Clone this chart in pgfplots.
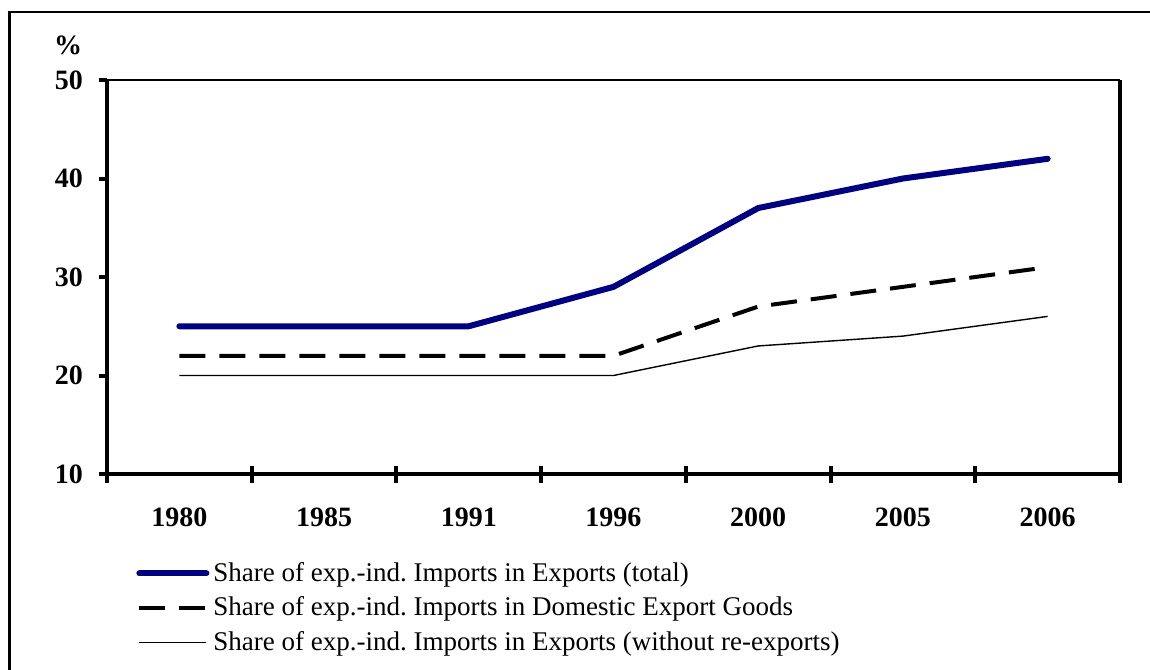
\documentclass[border=0pt]{standalone}
\usepackage{pgfplots}
\pgfplotsset{compat=1.18}
\usepackage{fontspec}
\setmainfont{Liberation Serif}
\frenchspacing
\definecolor{navy}{RGB}{0,0,128}
\begin{document}
\begin{tikzpicture}
\useasboundingbox (0,0) rectangle (575pt,334.5pt);
\draw[line width=1.5pt] (4.5pt,-1pt) -- (4.5pt,328.5pt);
\draw[line width=1pt] (3.75pt,328.5pt) -- (576pt,328.5pt);
\begin{axis}[
  at={(53.5pt,97.5pt)}, anchor=south west,
  scale only axis, width=506.5pt, height=197pt,
  xmin=-0.5, xmax=6.5, ymin=10, ymax=50,
  clip=false,
  axis x line*=bottom, axis y line*=left,
  axis line style={line width=2pt, black, -},
  tick style={black, line width=2pt},
  tick align=outside, major tick length=4pt, minor tick length=8.5pt,
  ytick={10,20,30,40,50},
  xtick={0,...,6},
  xticklabels={1980,1985,1991,1996,2000,2005,2006},
  major x tick style={draw=none},
  minor xtick={-0.5,0.5,...,6.5},
  minor x tick style={yshift=4.25pt},
  /pgf/number format/assume math mode=true,
  tick label style={font=\fontsize{14}{16}\selectfont\bfseries},
  xticklabel style={yshift=-9.5pt},
  yticklabel style={xshift=-4.5pt},
  legend style={draw=none, fill=none, at={(axis description cs:0.0286,-0.2132)}, anchor=north west, inner sep=0pt, row sep=2.2pt, font=\fontsize{13.5}{15}\selectfont, legend cell align=left, /tikz/every even column/.append style={column sep=0pt}},
  legend image code/.code={\draw[#1] (0pt,0pt) -- (33.5pt,0pt);},
]
\addplot[navy, line width=3pt, line cap=round, line join=round] coordinates {(0,25) (1,25) (2,25) (3,29) (4,37) (5,40) (6,42)};
\addlegendentry{Share of exp.-ind. Imports in Exports (total)}
\addplot[black, line width=2pt, dash pattern=on 13pt off 7pt] coordinates {(0,22) (1,22) (2,22) (3,22) (4,27) (5,29) (6,31)};
\addlegendentry{Share of exp.-ind. Imports in Domestic Export Goods}
\addplot[black, line width=0.7pt] coordinates {(0,20) (1,20) (2,20) (3,20) (4,23) (5,24) (6,26)};
\addlegendentry{Share of exp.-ind. Imports in Exports (without re-exports)}
\draw[line width=1.2pt, black] (rel axis cs:0,1) -- (rel axis cs:1,1);
\draw[line width=2pt, black] (rel axis cs:1,1) -- (rel axis cs:1,0);
\node[font=\fontsize{14}{16}\selectfont\bfseries] at (axis description cs:-0.0385,1.0888) {\%};
\end{axis}
\end{tikzpicture}
\end{document}
